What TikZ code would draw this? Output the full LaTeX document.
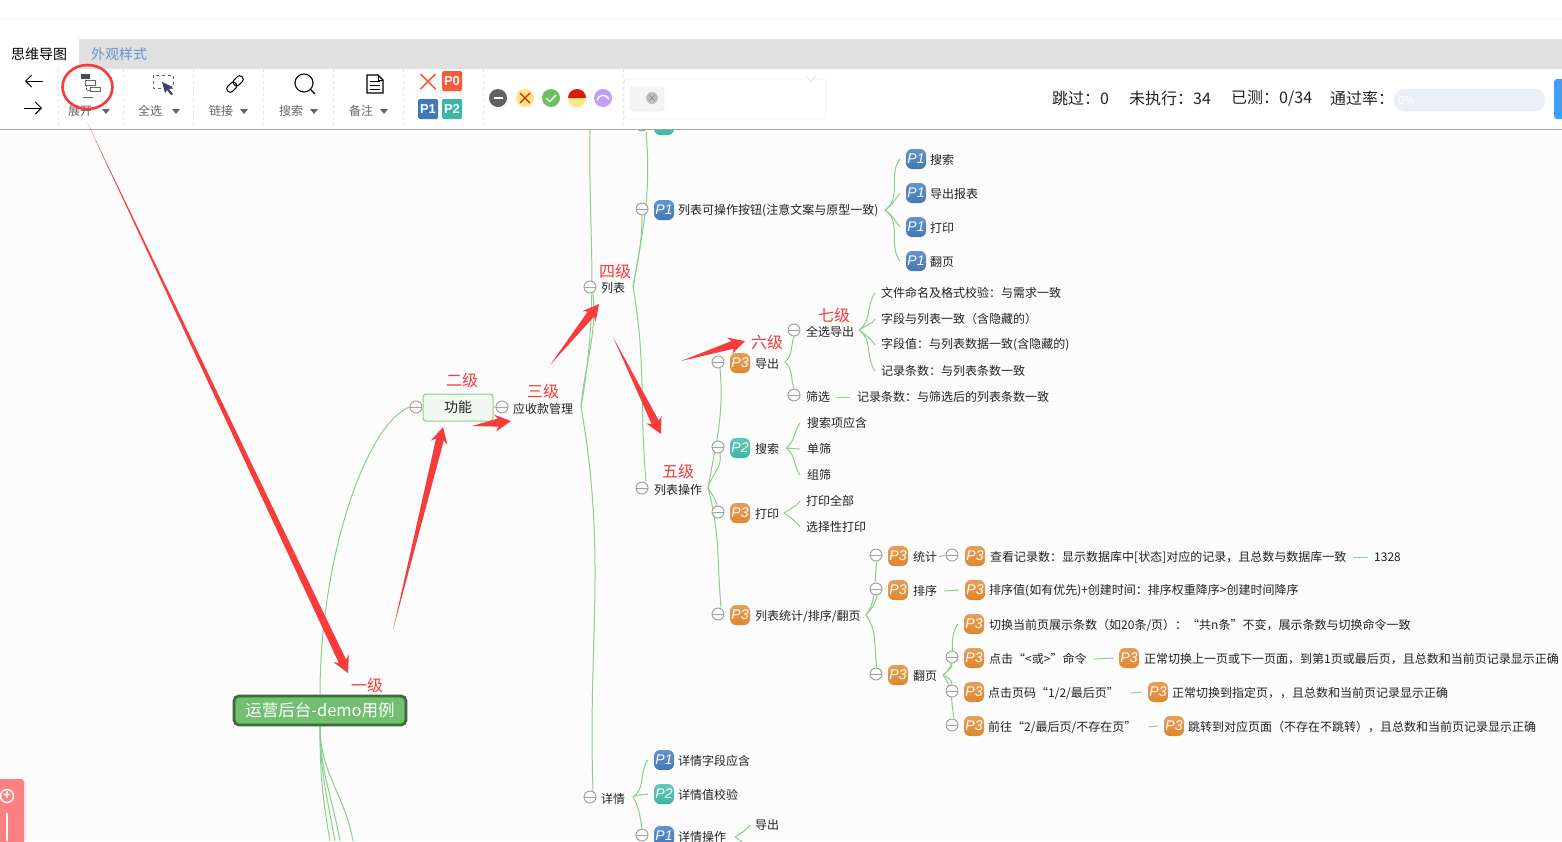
\documentclass[tikz,border=0pt]{standalone}
\usepackage{fontspec}
\usepackage{xcolor}
\setmainfont{Noto Sans CJK SC}
\newfontfamily\badgefont{Liberation Sans}
\usetikzlibrary{arrows.meta}
\usetikzlibrary{calc, backgrounds}
\definecolor{canvasbg}{HTML}{FCFCFC}
\definecolor{linegreen}{HTML}{8CCF8C}
\definecolor{foldgray}{HTML}{A3A3A3}
\definecolor{inktext}{HTML}{222222}
\definecolor{toolgray}{HTML}{666666}
\definecolor{sepgray}{HTML}{E6E6E6}
\definecolor{markred}{HTML}{F83C3C}
\definecolor{tagred}{HTML}{FA5A35}
\definecolor{tagblue}{HTML}{3F78BD}
\definecolor{tagteal}{HTML}{3BB8A5}
\definecolor{tagorange}{HTML}{DF872F}
\definecolor{rootfill}{HTML}{72BF72}
\definecolor{rootline}{HTML}{3C6B3C}
\definecolor{funcfill}{HTML}{F1F8F1}
\definecolor{statyellow}{HTML}{FFE680}
\definecolor{statgreen}{HTML}{6CC05F}
\definecolor{statred}{HTML}{D81E06}
\definecolor{statpurple}{HTML}{BF9FF5}
\definecolor{boxline}{HTML}{DCDFE6}
\definecolor{barfill}{HTML}{EBEEF5}
\definecolor{btnblue}{HTML}{409EFF}
\tikzset{
fold/.style = { circle, draw = foldgray, fill = canvasbg, line width = 1pt, minimum size = 12pt, inner sep = 0pt,
    path picture = { \draw[foldgray, line width = 1pt] (path picture bounding box.west) -- (path picture bounding box.east); } },
prio/.style = { rectangle, rounded corners = 6pt, minimum size = 20pt, inner sep = 0pt, text = white, font = \badgefont\itshape\fontsize{14}{14}\selectfont },
p1/.style = { prio, top color = tagblue!80!white, bottom color = tagblue },
p2/.style = { prio, top color = tagteal!80!white, bottom color = tagteal },
p3/.style = { prio, top color = tagorange!80!white, bottom color = tagorange },
leaf/.style = { anchor = west, inner sep = 0pt, text = inktext, font = \fontsize{12}{14}\selectfont },
level/.style = { inner sep = 0pt, text = markred, font = \fontsize{16}{18}\selectfont },
branch/.style = { draw = linegreen, line width = 1pt },
rise/.style = { out = 35, in = 235 },
fall/.style = { out = -35, in = 125 },
callout/.style = { fill = markred, to path = {
    -- ($($(\tikztotarget)!13pt!(\tikztostart)$)!4pt!90:(\tikztotarget)$)
    -- ($($(\tikztotarget)!16pt!(\tikztostart)$)!8.5pt!90:(\tikztotarget)$)
    -- (\tikztotarget)
    -- ($($(\tikztotarget)!16pt!(\tikztostart)$)!8.5pt!-90:(\tikztotarget)$)
    -- ($($(\tikztotarget)!13pt!(\tikztostart)$)!4pt!-90:(\tikztotarget)$)
    -- cycle } },
toollabel/.style = { anchor = west, inner sep = 0pt, text = toolgray, font = \fontsize{12}{14}\selectfont },
stat/.style = { anchor = west, inner sep = 0pt, text = inktext, font = \fontsize{16}{18}\selectfont },
status/.style = { circle, minimum size = 18pt, inner sep = 0pt },
caret/.style = { fill = toolgray },
sepline/.style = { draw = sepgray, dashed, line width = 0.8pt },
}
\begin{document}
\begin{tikzpicture}[x = 1pt, y = -1pt]
    \path[use as bounding box, clip] (0, 0) rectangle (1562, 841);
    % mind map nodes
    \node[draw = rootline, line width = 2.8pt, fill = rootfill, rounded corners = 5pt, minimum width = 172pt, minimum height = 29pt, inner sep = 0pt, text = white, font = \fontsize{16.5}{18}\selectfont] (root) at (320, 710.5) {运营后台-demo用例};
    \node[draw = linegreen, line width = 1pt, fill = funcfill, rounded corners = 3pt, minimum width = 70pt, minimum height = 27pt, inner sep = 0pt, text = inktext, font = \fontsize{14}{16}\selectfont] (func) at (458, 407.5) {功能};
    \node[fold] (ffunc) at (416, 407) {};
    \node[fold] (fpay) at (502, 407) {};
    \node[leaf] (tpay) at (513, 409) {应收款管理};
    \node[fold] (flist) at (590, 287) {};
    \node[leaf] (tlist) at (601, 288) {列表};
    \node[fold] (ftop) at (642, 125) {};
    \node[p2] (btop) at (664, 125) {};
    \node[fold] (fbtn) at (642, 209) {};
    \node[p1] (bbtn) at (664, 210) {P1};
    \node[leaf] (tbtn) at (678, 211) {列表可操作按钮(注意文案与原型一致)};
    \node[p1] (bbtna) at (916, 159) {P1};
    \node[leaf] (tbtna) at (930, 160) {搜索};
    \node[p1] (bbtnb) at (916, 193) {P1};
    \node[leaf] (tbtnb) at (930, 194) {导出报表};
    \node[p1] (bbtnc) at (916, 227) {P1};
    \node[leaf] (tbtnc) at (930, 228) {打印};
    \node[p1] (bbtnd) at (916, 261) {P1};
    \node[leaf] (tbtnd) at (930, 262) {翻页};
    \node[fold] (fops) at (642, 488) {};
    \node[leaf] (tops) at (654, 490) {列表操作};
    \node[fold] (fexp) at (718, 362) {};
    \node[p3] (bexp) at (740, 363) {P3};
    \node[leaf] (texp) at (755, 364) {导出};
    \node[fold] (fall) at (794, 330) {};
    \node[leaf] (tall) at (806, 332) {全选导出};
    \node[leaf] (talla) at (881, 293) {文件命名及格式校验：与需求一致};
    \node[leaf] (tallb) at (881, 319) {字段与列表一致（含隐藏的）};
    \node[leaf] (tallc) at (881, 345) {字段值：与列表数据一致(含隐藏的)};
    \node[leaf] (talld) at (881, 371) {记录条数：与列表条数一致};
    \node[fold] (fflt) at (794, 395) {};
    \node[leaf] (tflt) at (806, 397) {筛选};
    \node[leaf] (tflta) at (857, 397) {记录条数：与筛选后的列表条数一致};
    \node[fold] (fsch) at (718, 447) {};
    \node[p2] (bsch) at (740, 448) {P2};
    \node[leaf] (tsch) at (755, 449) {搜索};
    \node[leaf] (tscha) at (807, 423) {搜索项应含};
    \node[leaf] (tschb) at (807, 449) {单筛};
    \node[leaf] (tschc) at (807, 475) {组筛};
    \node[fold] (fprt) at (718, 512) {};
    \node[p3] (bprt) at (740, 513) {P3};
    \node[leaf] (tprt) at (755, 514) {打印};
    \node[leaf] (tprta) at (806, 501) {打印全部};
    \node[leaf] (tprtb) at (806, 527) {选择性打印};
    \node[fold] (fsta) at (718, 614) {};
    \node[p3] (bsta) at (740, 615) {P3};
    \node[leaf] (tsta) at (755, 616) {列表统计/排序/翻页};
    \node[fold] (fcnt) at (876, 555) {};
    \node[p3] (bcnt) at (898, 556) {P3};
    \node[leaf] (tcnt) at (913, 557) {统计};
    \node[fold] (fcnta) at (952, 555) {};
    \node[p3] (bcnta) at (975, 556) {P3};
    \node[leaf] (tcnta) at (990, 557) {查看记录数：显示数据库中[状态]对应的记录，且总数与数据库一致};
    \node[leaf] (tcntb) at (1374, 557) {1328};
    \node[fold] (fsrt) at (876, 589) {};
    \node[p3] (bsrt) at (898, 590) {P3};
    \node[leaf] (tsrt) at (913, 591) {排序};
    \node[p3] (bsrta) at (975, 590) {P3};
    \node[leaf] (tsrta) at (989, 591) {排序值(如有优先)+创建时间：排序权重降序>创建时间降序};
    \node[fold] (fpag) at (876, 674) {};
    \node[p3] (bpag) at (898, 675) {P3};
    \node[leaf] (tpag) at (913, 676) {翻页};
    \node[p3] (bpaga) at (974, 624) {P3};
    \node[leaf] (tpaga) at (989, 625) {切换当前页展示条数（如20条/页）：“共n条”不变，展示条数与切换命令一致};
    \node[fold] (fpagb) at (952, 657) {};
    \node[p3] (bpagb) at (974, 658) {P3};
    \node[leaf] (tpagb) at (989, 659) {点击“<或>”命令};
    \node[p3] (bpagbb) at (1129, 658) {P3};
    \node[leaf] (tpagbb) at (1144, 659) {正常切换上一页或下一页面，到第1页或最后页，且总数和当前页记录显示正确};
    \node[fold] (fpagc) at (952, 691) {};
    \node[p3] (bpagc) at (974, 692) {P3};
    \node[leaf] (tpagc) at (988, 693) {点击页码“1/2/最后页”};
    \node[p3] (bpagcb) at (1158, 692) {P3};
    \node[leaf] (tpagcb) at (1172, 693) {正常切换到指定页，，且总数和当前页记录显示正确};
    \node[fold] (fpagd) at (952, 725) {};
    \node[p3] (bpagd) at (974, 726) {P3};
    \node[leaf] (tpagd) at (988, 727) {前往“2/最后页/不存在页”};
    \node[p3] (bpagdb) at (1174, 726) {P3};
    \node[leaf] (tpagdb) at (1188, 727) {跳转到对应页面（不存在不跳转），且总数和当前页记录显示正确};
    \node[fold] (fdet) at (590, 797) {};
    \node[leaf] (tdet) at (601, 799) {详情};
    \node[p1] (bdeta) at (664, 760) {P1};
    \node[leaf] (tdeta) at (678, 761) {详情字段应含};
    \node[p2] (bdetb) at (664, 794) {P2};
    \node[leaf] (tdetb) at (678, 795) {详情值校验};
    \node[fold] (fdetc) at (642, 835) {};
    \node[p1] (bdetc) at (664, 836) {P1};
    \node[leaf] (tdetc) at (678, 837) {详情操作};
    \node[leaf] (tdetd) at (755, 825) {导出};
    % junctions and free ends
    \coordinate (jpay) at (581, 407);
    \coordinate (jlist) at (633, 287);
    \coordinate (jbtn) at (885, 210);
    \coordinate (jops) at (708, 488);
    \coordinate (jexp) at (785, 362);
    \coordinate (jall) at (859, 330);
    \coordinate (jsch) at (786, 448);
    \coordinate (jprt) at (784, 513);
    \coordinate (jsta) at (866, 615);
    \coordinate (jpag) at (943, 675);
    \coordinate (jdet) at (633, 797);
    \coordinate (jdetc) at (735, 837);
    \coordinate (ptop) at (590, 130);
    \coordinate (pdeta) at (330, 841);
    \coordinate (pdetb) at (335, 841);
    \coordinate (pdetc) at (340, 841);
    \coordinate (pdetd) at (353, 841);
    \coordinate (pdete) at (750, 850);
    % connectors behind the nodes
    \begin{pgfonlayer}{background}
      \fill[canvasbg] (0, 130) rectangle (1562, 841);
      \draw[branch] (root.north) .. controls (320, 560) and (365, 425) .. (ffunc.west);
      \foreach \e in {pdeta, pdetb, pdetc, pdetd}
        \draw[branch] (root.south) to[out = -90, in = 100] (\e);
      \draw[branch] (func.east) -- (fpay.west);
      \draw[branch] (jpay) to[out = 80, in = -91] (ptop);
      \draw[branch] (jpay) to[out = 85, in = -85] ([xshift = 3pt]flist.south);
      \draw[branch] (jpay) to[out = -80, in = 92] ([xshift = 3pt]fdet.north);
      \draw[branch] (jlist) to[out = 80, in = -85] ([xshift = 4pt]ftop.south);
      \draw[branch] (jlist) to[out = 80, in = -90] (fbtn.south);
      \draw[branch] (jlist) to[out = -80, in = 95] ([xshift = 4pt]fops.north);
      \foreach \e in {bbtna, bbtnb}
        \draw[branch] (jbtn) to[rise] ([xshift = -6pt]\e.west);
      \foreach \e in {bbtnc, bbtnd}
        \draw[branch] (jbtn) to[fall] ([xshift = -6pt]\e.west);
      \draw[branch] (jops) to[out = 80, in = -85] ([xshift = 2pt]fexp.south);
      \draw[branch] (jops) to[out = 75, in = -80] ([xshift = 2pt]fsch.south);
      \draw[branch] (jops) to[out = -60, in = 100] ([xshift = -1pt]fprt.north);
      \draw[branch] (jops) to[out = -75, in = 95] ([xshift = 3pt]fsta.north);
      \draw[branch] (jexp) to[out = 40, in = 250] (fall.south);
      \draw[branch] (jexp) to[out = -40, in = 110] (fflt.north);
      \foreach \e in {talla, tallb}
        \draw[branch] (jall) to[rise] ([xshift = -6pt]\e.west);
      \foreach \e in {tallc, talld}
        \draw[branch] (jall) to[fall] ([xshift = -6pt]\e.west);
      \draw[branch] ([xshift = 7pt]tflt.east) -- ([xshift = -7pt]tflta.west);
      \draw[branch] (jsch) to[rise] ([xshift = -7pt]tscha.west);
      \draw[branch] (jsch) -- ([xshift = -7pt]tschb.west);
      \draw[branch] (jsch) to[fall] ([xshift = -7pt]tschc.west);
      \draw[branch] (jprt) to[rise] ([xshift = -6pt]tprta.west);
      \draw[branch] (jprt) to[fall] ([xshift = -6pt]tprtb.west);
      \draw[branch] (jsta) to[out = 55, in = -100] ([xshift = 1pt]fcnt.south);
      \draw[branch] (jsta) to[out = 50, in = -100] ([xshift = 1pt]fsrt.south);
      \draw[branch] (jsta) to[out = -55, in = 100] ([xshift = 1pt]fpag.north);
      \draw[branch] ([xshift = 1pt]tcnt.east) -- (fcnta.west);
      \draw[branch] ([xshift = 6pt]tcnta.east) -- ([xshift = -6pt]tcntb.west);
      \draw[branch] ([xshift = 7pt]tsrt.east) -- ([xshift = -6pt]bsrta.west);
      \draw[branch] (jpag) to[rise] ([xshift = -6pt]bpaga.west);
      \draw[branch] (jpag) to[out = 50, in = -80] (fpagb.south);
      \draw[branch] (jpag) to[out = -30, in = 90] (fpagc.north);
      \draw[branch] (jpag) to[out = -55, in = 100] ([xshift = 2pt]fpagd.north);
      \draw[branch] ([xshift = 7pt]tpagb.east) -- ([xshift = -5pt]bpagbb.west);
      \draw[branch] ([xshift = 12pt]tpagc.east) -- ([xshift = -6pt]bpagcb.west);
      \draw[branch] ([xshift = 12pt]tpagd.east) -- ([xshift = -6pt]bpagdb.west);
      \draw[branch] (jdet) to[rise] ([xshift = -6pt]bdeta.west);
      \draw[branch] (jdet) to[out = 30, in = 190] ([xshift = -6pt]bdetb.west);
      \draw[branch] (jdet) to[out = -60, in = 100] (fdetc.north);
      \draw[branch] (jdetc) to[rise] ([xshift = -5pt]tdetd.west);
      \draw[branch] (jdetc) to[fall] (pdete);
    \end{pgfonlayer}
    % level marks
    \node[level] (lone) at (367, 685) {一级};
    \node[level] (ltwo) at (462, 380) {二级};
    \node[level] (lthree) at (543, 391) {三级};
    \node[level] (lfour) at (615, 271) {四级};
    \node[level] (lfive) at (678, 471) {五级};
    \node[level] (lsix) at (767, 342) {六级};
    \node[level] (lseven) at (834, 315) {七级};
    % left panel
    \fill[black!8] (0, 782) -- (26, 782) -- (26, 841) -- (0, 841) -- cycle;
    \fill[red!50!white, rounded corners = 3pt] (-5, 779) -- (24, 779) -- (24, 846) -- (-5, 846) -- cycle;
    \node[circle, draw = white, line width = 1.4pt, minimum size = 13pt, inner sep = 0pt, text = white, font = \bfseries\fontsize{12}{12}\selectfont] (padd) at (7, 796) {+};
    \fill[white] (6, 813) rectangle (7.5, 841);
    % toolbar
    \fill[white] (0, 0) rectangle (1562, 129);
    \draw[black!5] (0, 19.5) -- (1562, 19.5);
    \fill[black!12] (79, 39) rectangle (1562, 69);
    \draw[black!35, line width = 1pt] (0, 129.5) -- (1562, 129.5);
    \node[anchor = west, inner sep = 0pt, text = black, font = \fontsize{14}{16}\selectfont] (tabmap) at (11, 54) {思维导图};
    \node[anchor = west, inner sep = 0pt, text = tagblue!80!white, font = \fontsize{14}{16}\selectfont] (tablook) at (91, 54) {外观样式};
    \foreach \x in {58, 123, 193, 263, 333, 403, 483, 623}
      \draw[sepline] (\x, 69) -- (\x, 129);
    \draw[line width = 1pt, -{Straight Barb[length = 6pt, width = 12pt]}] (43, 81) -- (25, 81);
    \draw[line width = 1pt, -{Straight Barb[length = 6pt, width = 12pt]}] (24, 108) -- (42, 108);
    % expand icon
    \fill[black!70] (81, 74) rectangle (90, 79);
    \draw[toolgray, line width = 0.7pt] (85, 80) rectangle (95, 85);
    \draw[toolgray, line width = 0.7pt] (90, 87) rectangle (100, 91);
    \draw[toolgray, densely dotted] (86, 85) -- (86, 90) -- (90, 90);
    \draw[toolgray, line width = 0.7pt] (83, 97) -- (93, 97);
    \node[toollabel] (lblopen) at (68, 111) {展开};
    \fill[caret] (102, 109) -- (110, 109) -- (106, 114) -- cycle;
    % select icon
    \draw[toolgray, dashed, line width = 0.8pt] (153, 75) rectangle (173, 88);
    \fill[black!60!blue!50!gray] (162, 82) -- (173, 87) -- (169, 89) -- (173, 94) -- (171, 95) -- (167, 90) -- (165, 93) -- cycle;
    \node[toollabel] (lblall) at (138, 111) {全选};
    \fill[caret] (172, 109) -- (180, 109) -- (176, 114) -- cycle;
    % link icon
    \draw[black, line width = 1pt, rounded corners = 3pt, rotate around = {45:(235, 84)}] (225, 80.5) rectangle (236, 87.5);
    \draw[black, line width = 1pt, rounded corners = 3pt, rotate around = {45:(235, 84)}] (234, 80.5) rectangle (245, 87.5);
    \node[toollabel] (lbllink) at (209, 111) {链接};
    \fill[caret] (240, 109) -- (248, 109) -- (244, 114) -- cycle;
    % search icon
    \draw[black, line width = 1.1pt] (304, 83) circle (9);
    \draw[black, line width = 1.1pt] (310.5, 89.5) -- (315, 94);
    \node[toollabel] (lblfind) at (279, 111) {搜索};
    \fill[caret] (310, 109) -- (318, 109) -- (314, 114) -- cycle;
    % note icon
    \draw[black, line width = 1.1pt] (367, 75) -- (378, 75) -- (383, 80) -- (383, 93) -- (367, 93) -- cycle;
    \draw[black, line width = 0.9pt] (378, 75) -- (378, 80) -- (383, 80);
    \foreach \y in {81, 85, 89}
      \draw[black, line width = 0.9pt] (370, \y) -- (380, \y);
    \node[toollabel] (lblnote) at (349, 111) {备注};
    \fill[caret] (380, 109) -- (388, 109) -- (384, 114) -- cycle;
    % priority buttons
    \draw[tagred, line width = 1.6pt] (420.5, 74) -- (435.5, 89);
    \draw[tagred, line width = 1.6pt] (435.5, 74) -- (420.5, 89);
    \foreach \n/\t/\x/\y/\c in {bzero/P0/452/81/tagred, bone/P1/428/109/tagblue, btwo/P2/452/109/tagteal}
      \node[fill = \c, rounded corners = 1.5pt, minimum size = 20pt, inner sep = 0pt, text = white, font = \badgefont\bfseries\fontsize{13}{13}\selectfont] (\n) at (\x, \y) {\t};
    % status buttons
    \node[status, fill = black!62] (sskip) at (498, 98) {};
    \draw[white, line width = 1.6pt] (493.5, 98) -- (502.5, 98);
    \node[status, fill = statyellow] (sfail) at (525, 98) {};
    \draw[statred, line width = 1.1pt] (520, 93) -- (530, 103);
    \draw[statred, line width = 1.1pt] (530, 93) -- (520, 103);
    \node[status, fill = statgreen] (spass) at (551, 98) {};
    \draw[white, line width = 1.4pt] (546, 98) -- (549.5, 101.5) -- (556, 95);
    \node[status, fill = statyellow, path picture = { \fill[statred] (path picture bounding box.north west) rectangle (path picture bounding box.east); }] (shalf) at (577, 98) {};
    \node[status, fill = statpurple] (sredo) at (603, 98) {};
    \draw[white, line width = 1.4pt, -{Stealth[length = 3pt]}] (597, 100) .. controls (599, 94) and (606, 94) .. (609, 100);
    % selection box
    \draw[boxline, fill = white, rounded corners = 3pt] (624, 79) rectangle (826, 119);
    \draw[black!10, fill = black!4, rounded corners = 3pt] (630, 87) rectangle (664, 111);
    \node[circle, fill = black!25, minimum size = 12pt, inner sep = 0pt] (sclose) at (652, 98) {};
    \draw[black!50, line width = 0.6pt] (649, 95) -- (655, 101);
    \draw[black!50, line width = 0.6pt] (655, 95) -- (649, 101);
    \draw[boxline] (806, 76) -- (811, 81) -- (816, 76);
    % stats
    \node[stat] (sskipped) at (1052, 98) {跳过：0};
    \node[stat] (stodo) at (1129, 98) {未执行：34};
    \node[stat] (sdone) at (1231, 98) {已测：0/34};
    \node[stat] (srate) at (1330, 98) {通过率：};
    \fill[barfill, rounded corners = 10pt] (1394, 89) rectangle (1545, 111);
    \node[anchor = west, inner sep = 0pt, text = white, font = \fontsize{11}{12}\selectfont] (spct) at (1398, 100) {0\%};
    \fill[btnblue, rounded corners = 3pt] (1554, 79) rectangle (1570, 119);
    % expand mark and callouts
    \draw[markred, line width = 2.6pt] (87.5, 87) ellipse (25 and 22);
    \coordinate (cala) at (87, 122);
    \coordinate (calb) at (348, 673);
    \coordinate (calc) at (393, 630);
    \coordinate (cald) at (443, 427);
    \coordinate (cale) at (472, 426);
    \coordinate (calf) at (511, 421);
    \coordinate (calg) at (550, 365);
    \coordinate (calh) at (599, 304);
    \coordinate (cali) at (613, 337);
    \coordinate (calj) at (661, 434);
    \coordinate (calk) at (681, 361);
    \coordinate (call) at (745, 341);
    \fill[callout] (cala) to (calb);
    \fill[callout] (calc) to (cald);
    \fill[callout] (cale) to (calf);
    \fill[callout] (calg) to (calh);
    \fill[callout] (cali) to (calj);
    \fill[callout] (calk) to (call);
\end{tikzpicture}
\end{document}
